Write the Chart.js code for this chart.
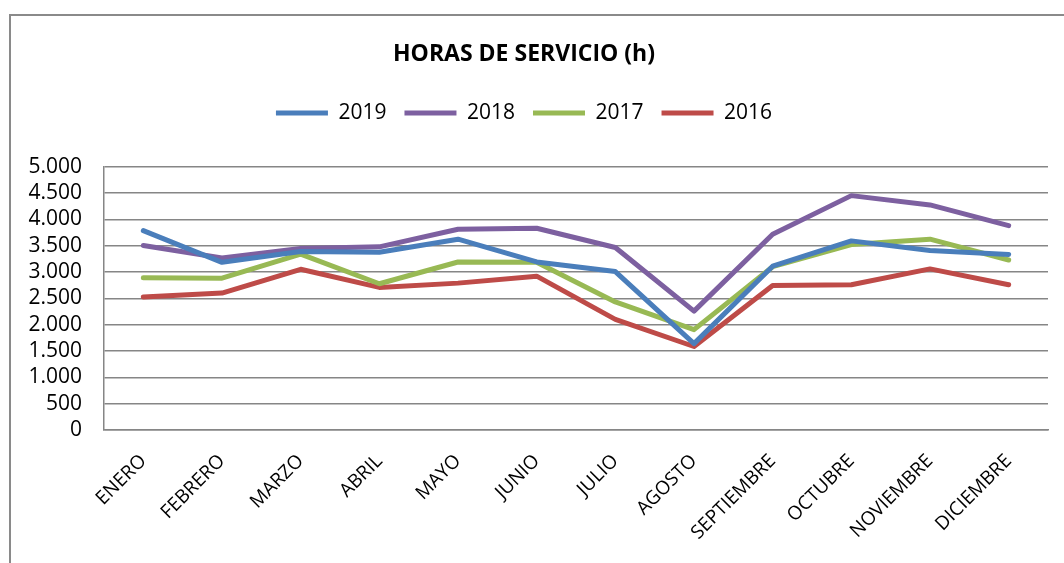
<!DOCTYPE html>
<html>
<head>
<meta charset="utf-8">
<script src="https://cdn.jsdelivr.net/npm/chart.js@4/dist/chart.umd.min.js"></script>
<style>
  html, body { margin: 0; padding: 0; background: #fff; }
  #marco { position: absolute; left: 9px; top: 14px; width: 1100px; height: 600px;
           border-top: 2px solid #8a8a8a; border-left: 2px solid #8a8a8a; }
  #grafico { position: absolute; left: 0; top: 0; }
</style>
</head>
<body>
<div id="marco"></div>
<canvas id="grafico" width="1064" height="563"></canvas>
<script>
const meses = ['ENERO', 'FEBRERO', 'MARZO', 'ABRIL', 'MAYO', 'JUNIO', 'JULIO', 'AGOSTO',
  'SEPTIEMBRE', 'OCTUBRE', 'NOVIEMBRE', 'DICIEMBRE'];

const horas2019 = [3784, 3183, 3390, 3375, 3622, 3190, 3008, 1640, 3110, 3590, 3408, 3333];
const horas2018 = [3502, 3265, 3446, 3477, 3810, 3829, 3465, 2256, 3716, 4449, 4273, 3878];
const horas2017 = [2889, 2882, 3340, 2776, 3189, 3185, 2431, 1905, 3100, 3521, 3622, 3227];
const horas2016 = [2524, 2600, 3051, 2707, 2788, 2920, 2099, 1585, 2744, 2757, 3058, 2757];

const anios = ['2019', '2018', '2017', '2016'];
const colores = ['#4a7ebb', '#7d60a0', '#98b954', '#be4b48'];

const series = [horas2019, horas2018, horas2017, horas2016];

const fuente = "'Open Sans', 'Liberation Sans', sans-serif";

// separa miles con punto (5.000)
const conPunto = v => String(v).replace(/\B(?=(\d{3})+(?!\d))/g, '.');

const ctx = document.getElementById('grafico').getContext('2d');
new Chart(ctx, {
  type: 'line',
  data: {
    labels: meses,
    datasets: series.map((datos, i) => ({
      label: anios[i],
      data: datos,
      borderColor: colores[i],
      backgroundColor: colores[i],
      borderWidth: 5,
      pointRadius: 0,
      tension: 0,
      borderCapStyle: 'round',
      borderJoinStyle: 'round'
    }))
  },
  options: {
    responsive: false,
    animation: false,
    layout: { padding: { top: 41, right: 16, left: 0, bottom: 0 } },
    plugins: {
      title: {
        display: true,
        text: 'HORAS DE SERVICIO (h)',
        color: '#000',
        font: { family: fuente, size: 23, weight: 'bold' },
        padding: { top: 0, bottom: 16 }
      },
      legend: {
        display: true,
        position: 'top',
        labels: {
          color: '#000',
          font: { family: fuente, size: 21 },
          usePointStyle: true,
          pointStyle: 'line',
          pointStyleWidth: 52,
          padding: 18
        }
      },
      tooltip: { enabled: false }
    },
    scales: {
      x: {
        offset: true,
        grid: { display: false, drawTicks: false, offset: true },
        border: { display: true, color: '#868686', width: 1.5 },
        ticks: {
          color: '#000',
          font: { family: fuente, size: 19 },
          maxRotation: 45,
          minRotation: 45,
          autoSkip: false,
          padding: 20
        },
        afterFit: eje => { eje.height = 133; }
      },
      y: {
        min: 0,
        max: 5000,
        grid: { color: '#868686', lineWidth: 1.5, drawTicks: false },
        border: { display: true, color: '#868686', width: 1.5 },
        ticks: {
          stepSize: 500,
          autoSkip: false,
          color: '#000',
          font: { family: fuente, size: 21 },
          padding: 22,
          callback: v => conPunto(v)
        },
        afterFit: eje => { eje.width = 104; }
      }
    }
  },
  plugins: [{
    id: 'espacioLeyenda',
    beforeInit(chart) {
      const ajusteOriginal = chart.legend.fit;
      chart.legend.fit = function () {
        ajusteOriginal.call(this);
        this.height += 33;
      };
    }
  }]
});
</script>
</body>
</html>
